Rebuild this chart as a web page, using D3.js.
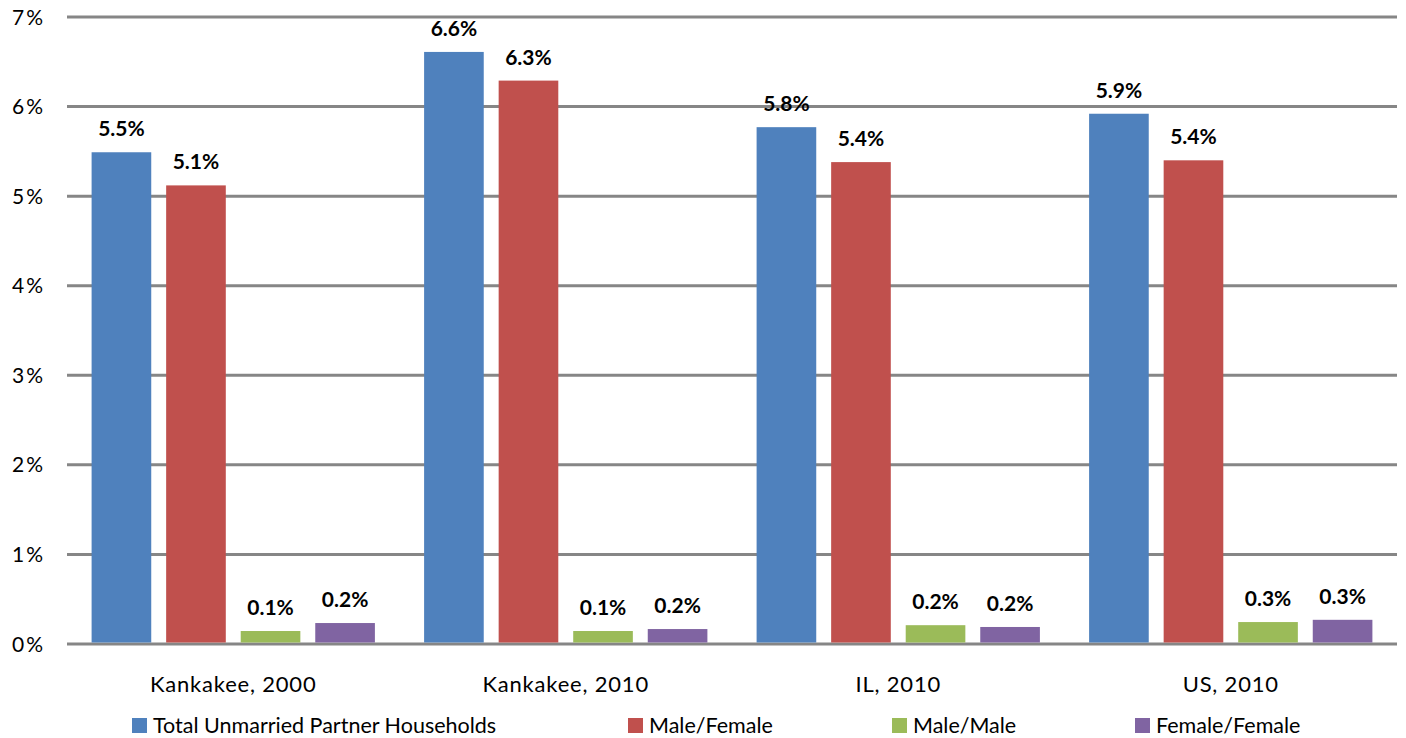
<!DOCTYPE html>
<html>
<head>
<meta charset="utf-8">
<script src="https://cdn.jsdelivr.net/npm/d3@7"></script>
<style>
  body { margin: 0; background: #fff; }
  svg { display: block; font-family: Lato, "Open Sans", sans-serif; }
</style>
</head>
<body>
<svg></svg>
<script>
const categories = ['Kankakee, 2000', 'Kankakee, 2010', 'IL, 2010', 'US, 2010'];
const seriesNames = ['Total Unmarried Partner Households', 'Male/Female', 'Male/Male', 'Female/Female'];
const totalValues = [5.49, 6.61, 5.77, 5.92];
const maleFemaleValues = [5.12, 6.29, 5.38, 5.40];
const maleMaleValues = [0.145, 0.145, 0.21, 0.245];
const femaleFemaleValues = [0.234, 0.167, 0.19, 0.27];
const valueLabels = [
  ['5.5%', '6.6%', '5.8%', '5.9%'],
  ['5.1%', '6.3%', '5.4%', '5.4%'],
  ['0.1%', '0.1%', '0.2%', '0.3%'],
  ['0.2%', '0.2%', '0.2%', '0.3%']
];
const yTicks = [0, 1, 2, 3, 4, 5, 6, 7];
const colors = ['#4F81BD', '#C0504D', '#9BBB59', '#8064A2'];

const size = {w: 1406, h: 738};
const margin = {t: 17, r: 9, b: 94, l: 67};
const svg = d3.select('svg').attr('width', size.w).attr('height', size.h);

const allSeries = [totalValues, maleFemaleValues, maleMaleValues, femaleFemaleValues];

const x0 = d3.scaleBand()
  .domain(categories)
  .range([margin.l, size.w - margin.r]);

const x1 = d3.scaleBand()
  .domain(seriesNames)
  .range([0, x0.bandwidth()])
  .paddingInner(0.2)
  .paddingOuter(0.33);

const y = d3.scaleLinear()
  .domain([0, 7])
  .range([size.h - margin.b, margin.t]);

// gridlines
svg.append('g')
  .selectAll('line')
  .data(yTicks)
  .join('line')
  .attr('x1', margin.l)
  .attr('x2', size.w - margin.r)
  .attr('y1', d => y(d))
  .attr('y2', d => y(d))
  .attr('stroke', '#868686')
  .attr('stroke-width', 3);

// y tick labels
svg.append('g')
  .attr('font-size', 21)
  .attr('fill', '#000')
  .selectAll('text')
  .data(yTicks)
  .join('text')
  .attr('x', 45)
  .attr('y', d => y(d))
  .attr('dy', '0.36em')
  .attr('text-anchor', 'end')
  .attr('letter-spacing', 2)
  .text(d => d + '%');

// bars
const groups = svg.append('g')
  .selectAll('g')
  .data(seriesNames)
  .join('g')
  .attr('fill', (d, i) => colors[i]);

const cells = (s, i) => categories.map((c, j) => ({c: c, s: s, v: allSeries[i][j], label: valueLabels[i][j]}));

groups.selectAll('rect')
  .data(cells)
  .join('rect')
  .attr('x', d => x0(d.c) + x1(d.s))
  .attr('width', x1.bandwidth())
  .attr('y', d => y(d.v))
  .attr('height', d => y(0) - y(d.v) - 1.5);

// data labels
groups.selectAll('text')
  .data(cells)
  .join('text')
  .attr('x', d => x0(d.c) + x1(d.s) + x1.bandwidth() / 2)
  .attr('y', d => y(d.v) - 16)
  .attr('text-anchor', 'middle')
  .attr('font-size', 21)
  .attr('font-weight', 'bold')
  .attr('fill', '#000')
  .text(d => d.label);

// category labels
svg.append('g')
  .attr('font-size', 22)
  .selectAll('text')
  .data(categories)
  .join('text')
  .attr('x', d => x0(d) + x0.bandwidth() / 2)
  .attr('y', 692)
  .attr('text-anchor', 'middle')
  .attr('letter-spacing', 0.8)
  .text(d => d);

// legend
const legendX = [132, 628, 892, 1135];
const legend = svg.append('g')
  .selectAll('g')
  .data(seriesNames)
  .join('g')
  .attr('transform', (d, i) => `translate(${legendX[i]},718)`);

legend.append('rect')
  .attr('width', 15)
  .attr('height', 15)
  .attr('fill', (d, i) => colors[i]);

legend.append('text')
  .attr('x', 21)
  .attr('y', 7.5)
  .attr('dy', '0.36em')
  .attr('font-size', 21.5)
  .text(d => d);
</script>
</body>
</html>
